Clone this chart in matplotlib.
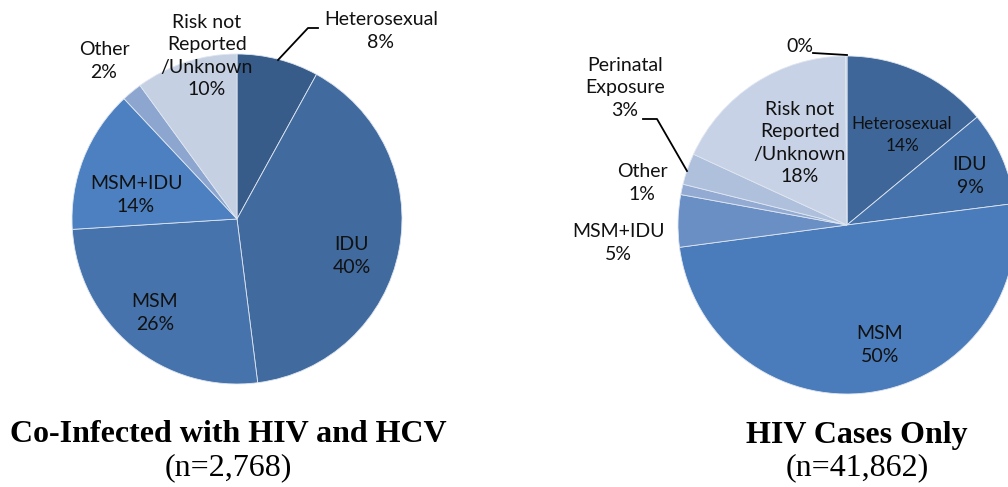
import matplotlib
matplotlib.use('Agg')
import matplotlib.pyplot as plt

# Transmission categories, clockwise from 12 o'clock
coinf_labels = ['Heterosexual', 'IDU', 'MSM', 'MSM+IDU', 'Other', 'Risk not\nReported\n/Unknown']
coinf_pct = [8, 40, 26, 14, 2, 10]
coinf_colors = ['#375C8A', '#416A9E', '#4673AC', '#4D80C0', '#8CA6D0', '#C5D0E3']

hiv_labels = ['Heterosexual', 'IDU', 'MSM', 'MSM+IDU', 'Other', 'Perinatal\nExposure',
              'Risk not\nReported\n/Unknown', '']
hiv_pct = [14, 9, 50, 5, 1, 3, 18, 0.15]
hiv_pct_text = ['14%', '9%', '50%', '5%', '1%', '3%', '18%', '0%']
hiv_colors = ['#3E6699', '#4572AA', '#4A7BBA', '#6A8FC5', '#93ABD3', '#AFC0DD', '#C8D2E6', '#C8D2E6']

titles = ['Co-Infected with HIV and HCV', 'HIV Cases Only']
counts = ['(n=2,768)', '(n=41,862)']

W, H = 1008, 487
fig = plt.figure(figsize=(W / 100, H / 100), dpi=100)
ax = fig.add_axes([0, 0, 1, 1])

# work in pixel units, y measured from the top
def py(y):
    return H - y

LABEL_FONT = dict(family='Lato', fontsize=14, color='#111111', ha='center', va='center',
                  linespacing=1.38)

# left pie
ax.pie(coinf_pct, colors=coinf_colors, startangle=90, counterclock=False,
       center=(237, py(219)), radius=165,
       wedgeprops=dict(edgecolor='#dfe6f0', linewidth=0.6))
coinf_pos = [(381, 31), (352, 256), (155, 313), (136, 195), (104, 61), (207, 56)]
for lab, pct, (x, y) in zip(coinf_labels, coinf_pct, coinf_pos):
    ax.text(x, py(y), f'{lab}\n{pct}%', **LABEL_FONT)
ax.plot([278, 308, 318], [py(60), py(28), py(28)], color='black', lw=1.3)

# right pie
ax.pie(hiv_pct, colors=hiv_colors, startangle=90, counterclock=False,
       center=(847, py(225)), radius=169,
       wedgeprops=dict(edgecolor='#dfe6f0', linewidth=0.6))
hiv_pos = [(902, 135), (970, 176), (880, 345), (618, 243), (642, 183), (625, 88), (800, 143),
           (800, 47)]
for i, (lab, txt, (x, y)) in enumerate(zip(hiv_labels, hiv_pct_text, hiv_pos)):
    s = f'{lab}\n{txt}' if lab else txt
    kw = dict(LABEL_FONT)
    if i == 0:
        kw['fontsize'] = 12.3
        kw['linespacing'] = 1.5
    ax.text(x, py(y), s, **kw)
ax.plot([643, 657, 687], [py(119), py(119), py(171)], color='black', lw=1.3)
ax.plot([813, 847], [py(53), py(55)], color='black', lw=1.3)

# captions under each pie
for cx, t, n in zip([228, 857], titles, counts):
    ax.text(cx, py(435), t, family='Liberation Serif', fontweight='bold', fontsize=23,
            ha='center', va='center', color='black')
    ax.text(cx, py(468), n, family='Liberation Serif', fontsize=23,
            ha='center', va='center', color='black')

ax.set_xlim(0, W)
ax.set_ylim(0, H)
ax.set_aspect('equal')
ax.axis('off')

fig.savefig('out.png', dpi=100, facecolor='white')
